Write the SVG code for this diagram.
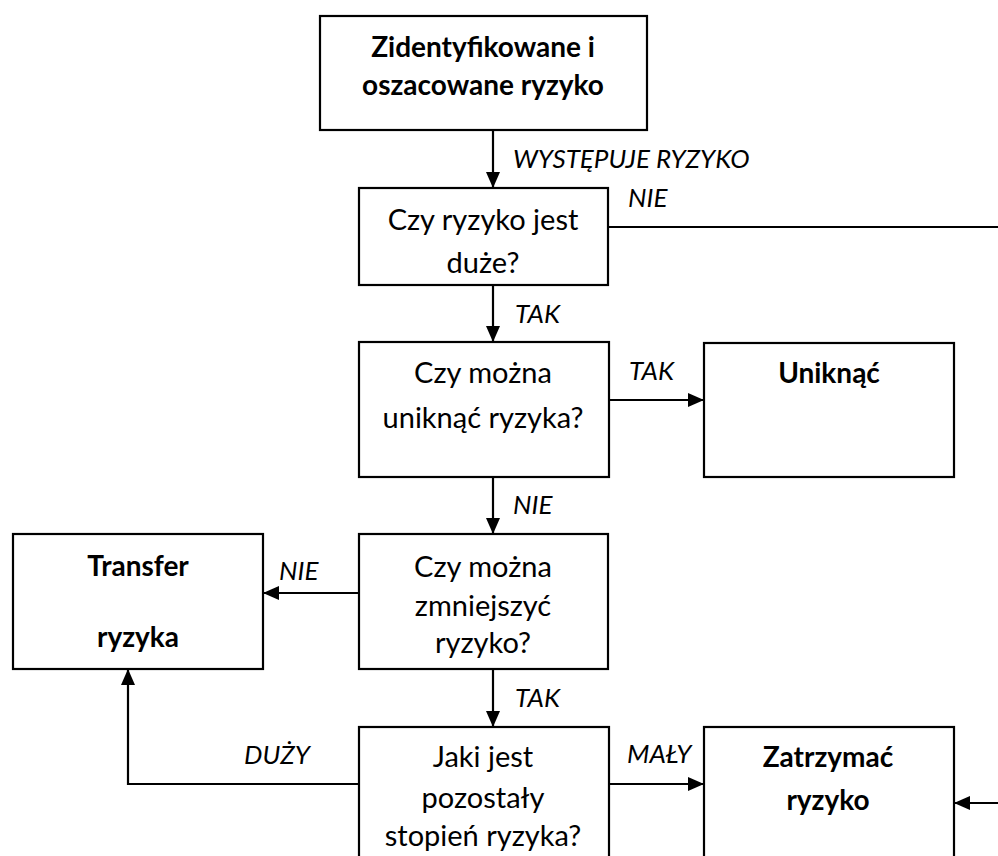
<svg xmlns="http://www.w3.org/2000/svg" width="998" height="856" viewBox="0 0 998 856">
<style>
.box{fill:#fff;stroke:#000;stroke-width:2.2}
.t{font-family:Lato,"Open Sans","Liberation Sans",sans-serif;font-size:29px;fill:#000;text-anchor:middle}
.b{font-family:Lato,"Open Sans","Liberation Sans",sans-serif;font-size:28px;font-weight:bold;fill:#000;text-anchor:middle}
.l{font-family:Lato,"Open Sans","Liberation Sans",sans-serif;font-size:26px;font-style:italic;fill:#000}
.c{fill:none;stroke:#000;stroke-width:2.2}
</style>
<defs>
<marker id="ah" markerUnits="userSpaceOnUse" markerWidth="17" markerHeight="15" refX="16" refY="7" orient="auto">
<path d="M0,0 L16,7 L0,14 z" fill="#000"/>
</marker>
</defs>
<rect width="998" height="856" fill="#fff"/>
<g id="connectors">
<path class="c" d="M493,130 V188" marker-end="url(#ah)"/>
<path class="c" d="M608,227 H998"/>
<path class="c" d="M493,285 V342" marker-end="url(#ah)"/>
<path class="c" d="M609,400 H704" marker-end="url(#ah)"/>
<path class="c" d="M493,477 V534" marker-end="url(#ah)"/>
<path class="c" d="M359,593 H263" marker-end="url(#ah)"/>
<path class="c" d="M493,669 V727" marker-end="url(#ah)"/>
<path class="c" d="M359,784 H128 V669" marker-end="url(#ah)"/>
<path class="c" d="M609,784 H704" marker-end="url(#ah)"/>
<path class="c" d="M998,803 H954" marker-end="url(#ah)"/>
<text class="l" x="513" y="168">WYSTĘPUJE RYZYKO</text>
<text class="l" x="628" y="207">NIE</text>
<text class="l" x="515" y="323">TAK</text>
<text class="l" x="629" y="380">TAK</text>
<text class="l" x="513" y="514">NIE</text>
<text class="l" x="279" y="580">NIE</text>
<text class="l" x="515" y="707">TAK</text>
<text class="l" x="244" y="764">DUŻY</text>
<text class="l" x="627" y="763">MAŁY</text>
</g>
<g id="n1">
<rect class="box" x="320" y="16" width="327" height="114"/>
<text class="b" x="483" y="57">Zidentyfikowane i</text>
<text class="b" x="483" y="95">oszacowane ryzyko</text>
</g>
<g id="n2">
<rect class="box" x="359" y="188" width="249" height="97"/>
<text class="t" x="483" y="230">Czy ryzyko jest</text>
<text class="t" x="483" y="273">duże?</text>
</g>
<g id="n3">
<rect class="box" x="359" y="342" width="250" height="135"/>
<text class="t" x="483" y="383">Czy można</text>
<text class="t" x="483" y="428">uniknąć ryzyka?</text>
</g>
<g id="n4">
<rect class="box" x="704" y="343" width="250" height="134"/>
<text class="b" x="829" y="383">Uniknąć</text>
</g>
<g id="n5">
<rect class="box" x="359" y="534" width="249" height="135"/>
<text class="t" x="483" y="577">Czy można</text>
<text class="t" x="483" y="616">zmniejszyć</text>
<text class="t" x="483" y="653">ryzyko?</text>
</g>
<g id="n6">
<rect class="box" x="13" y="534" width="250" height="135"/>
<text class="b" x="138" y="576">Transfer</text>
<text class="b" x="138" y="647">ryzyka</text>
</g>
<g id="n7">
<rect class="box" x="359" y="727" width="250" height="150"/>
<text class="t" x="483" y="767">Jaki jest</text>
<text class="t" x="483" y="808">pozostały</text>
<text class="t" x="483" y="846">stopień ryzyka?</text>
</g>
<g id="n8">
<rect class="box" x="704" y="727" width="250" height="150"/>
<text class="b" x="828" y="767">Zatrzymać</text>
<text class="b" x="828" y="810">ryzyko</text>
</g>
</svg>
